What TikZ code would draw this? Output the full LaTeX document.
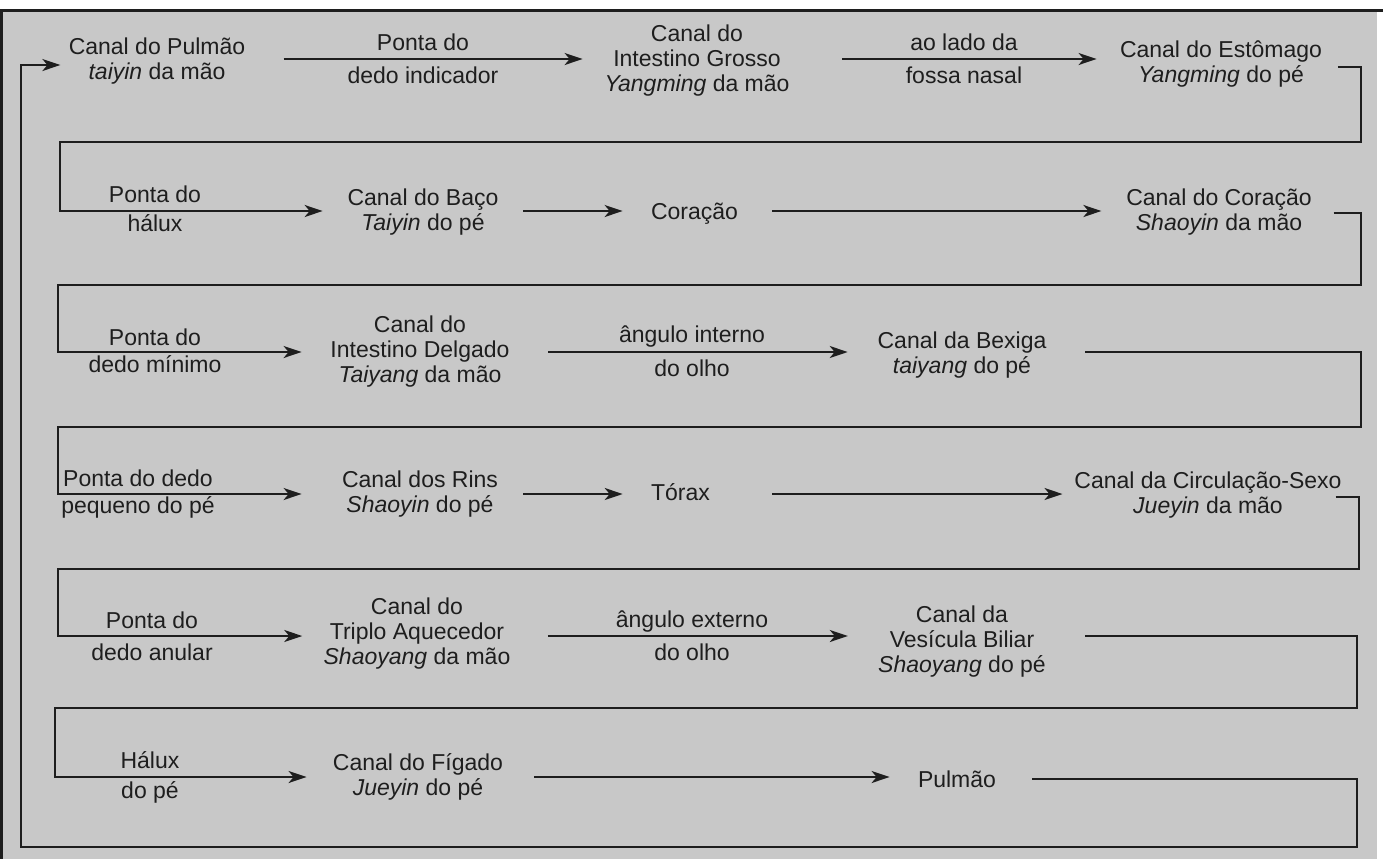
\documentclass[tikz,border=0pt]{standalone}
\usepackage{fontspec}
\setmainfont{Liberation Sans}
\usetikzlibrary{arrows.meta}
\definecolor{bgc}{RGB}{200,200,200}
\definecolor{ink}{RGB}{30,30,30}
\begin{document}
\begin{tikzpicture}[x=0.5pt,y=-0.5pt,
  txt/.style={align=center,inner sep=0pt,font=\fontsize{11.5}{12.5}\selectfont,text=ink},
  arr/.style={draw=ink,line width=1pt,-{Stealth[length=9pt,width=6pt,inset=2.5pt]}},
  frameline/.style={draw=ink,line width=1.5pt}]
\useasboundingbox (0,0) rectangle (1383,859);
% background
\fill[bgc] (0,10) rectangle (1377,859);
\draw[frameline] (0,10) -- (1383,10);
\draw[frameline] (1,10) -- (1,859);
% row lines
\coordinate (r1) at (0,59);
\coordinate (r2) at (0,211);
\coordinate (r3) at (0,352);
\coordinate (r4) at (0,494);
\coordinate (r5) at (0,636);
\coordinate (r6) at (0,777);
% bend points
\coordinate (k1) at (1361,142);
\coordinate (k2) at (60,211);
\coordinate (k3) at (1361,285);
\coordinate (k4) at (58,352);
\coordinate (k5) at (1361,427);
\coordinate (k6) at (58,494);
\coordinate (k7) at (1359,569);
\coordinate (k8) at (58,636);
\coordinate (k9) at (1357,708);
\coordinate (k10) at (55,777);
\coordinate (k11) at (1357,847);
\coordinate (k12) at (21,65);
% nodes
\node[txt] (pulmao) at (157,61.5) {\strut Canal do Pulmão\\\strut\textit{taiyin} da mão};
\node[txt] (lpdi) at (423,61.5) {\strut Ponta do\\[4pt]\strut dedo indicador};
\node[txt] (grosso) at (697,61) {\strut Canal do\\\strut Intestino Grosso\\\strut\textit{Yangming} da mão};
\node[txt] (lnasal) at (964,61.5) {\strut ao lado da\\[4pt]\strut fossa nasal};
\node[txt] (estomago) at (1221,64.5) {\strut Canal do Estômago\\\strut\textit{Yangming} do pé};
\node[txt] (lhalux) at (155,211.5) {\strut Ponta do\\[2pt]\strut hálux};
\node[txt] (baco) at (423,212.5) {\strut Canal do Baço\\\strut\textit{Taiyin} do pé};
\node[txt] (coracao) at (694.5,214.5) {\strut Coração};
\node[txt] (ccoracao) at (1219,212.5) {\strut Canal do Coração\\\strut\textit{Shaoyin} da mão};
\node[txt] (lminimo) at (155,353.5) {\strut Ponta do\\[1pt]\strut dedo mínimo};
\node[txt] (delgado) at (420,352) {\strut Canal do\\\strut Intestino Delgado\\\strut\textit{Taiyang} da mão};
\node[txt] (linterno) at (692,354) {\strut ângulo interno\\[4.5pt]\strut do olho};
\node[txt] (bexiga) at (962,355.5) {\strut Canal da Bexiga\\\strut\textit{taiyang} do pé};
\node[txt] (lpequeno) at (138,494.5) {\strut Ponta do dedo\\[1pt]\strut pequeno do pé};
\node[txt] (rins) at (420,494.5) {\strut Canal dos Rins\\\strut\textit{Shaoyin} do pé};
\node[txt] (torax) at (680.5,495) {\strut Tórax};
\node[txt] (circ) at (1208,495.5) {\strut Canal da Circulação-Sexo\\\strut\textit{Jueyin} da mão};
\node[txt] (lanular) at (152,639) {\strut Ponta do\\[3.5pt]\strut dedo anular};
\node[txt] (triplo) at (417,634) {\strut Canal do\\\strut Triplo Aquecedor\\\strut\textit{Shaoyang} da mão};
\node[txt] (lexterno) at (692,638.5) {\strut ângulo externo\\[4pt]\strut do olho};
\node[txt] (vesicula) at (962,642) {\strut Canal da\\\strut Vesícula Biliar\\\strut\textit{Shaoyang} do pé};
\node[txt] (lhalux2) at (150,778) {\strut Hálux\\[2.5pt]\strut do pé};
\node[txt] (figado) at (418,777.5) {\strut Canal do Fígado\\\strut\textit{Jueyin} do pé};
\node[txt] (pulmao2) at (957,782) {\strut Pulmão};
% row arrows
\draw[arr,shorten <=19pt,shorten >=10.75pt] (r1 -| pulmao.east) -- (r1 -| grosso.west);
\draw[arr,shorten <=26.25pt,shorten >=11.5pt] (r1 -| grosso.east) -- (r1 -| estomago.west);
\draw[arr,shorten <=12.25pt,shorten >=14pt] (r2 -| baco.east) -- (r2 -| coracao.west);
\draw[arr,shorten <=17pt,shorten >=12.25pt] (r2 -| coracao.east) -- (r2 -| ccoracao.west);
\draw[arr,shorten <=19.25pt,shorten >=14.75pt] (r3 -| delgado.east) -- (r3 -| bexiga.west);
\draw[arr,shorten <=12.5pt,shorten >=14pt] (r4 -| rins.east) -- (r4 -| torax.west);
\draw[arr,shorten <=31pt,shorten >=5.75pt] (r4 -| torax.east) -- (r4 -| circ.west);
\draw[arr,shorten <=18.5pt,shorten >=15pt] (r5 -| triplo.east) -- (r5 -| vesicula.west);
\draw[arr,shorten <=15.5pt,shorten >=14pt] (r6 -| figado.east) -- (r6 -| pulmao2.west);
% returns between rows
\draw[arr,shorten >=12.25pt] ([shift={(15.5,2.5)}]estomago.east) -| (k1) -| (k2) -- (r2 -| baco.west);
\draw[arr,shorten >=14.25pt] ([shift={(21.5,0.5)}]ccoracao.east) -| (k3) -| (k4) -- (r3 -| delgado.west);
\draw[arr,shorten <=19.25pt,shorten >=20pt] (r3 -| bexiga.east) -| (k5) -| (k6) -- (r4 -| rins.west);
\draw[arr,shorten >=10.5pt] ([shift={(-6.5,1.5)}]circ.east) -| (k7) -| (k8) -- (r5 -| triplo.west);
\draw[arr,shorten <=19.5pt,shorten >=13pt] (r5 -| vesicula.east) -| (k9) -| (k10) -- (r6 -| figado.west);
\draw[arr,shorten >=4pt] ([shift={(36,-3)}]pulmao2.east) -| (k11) -| (k12) -- (k12 -| pulmao.west);
\end{tikzpicture}
\end{document}
